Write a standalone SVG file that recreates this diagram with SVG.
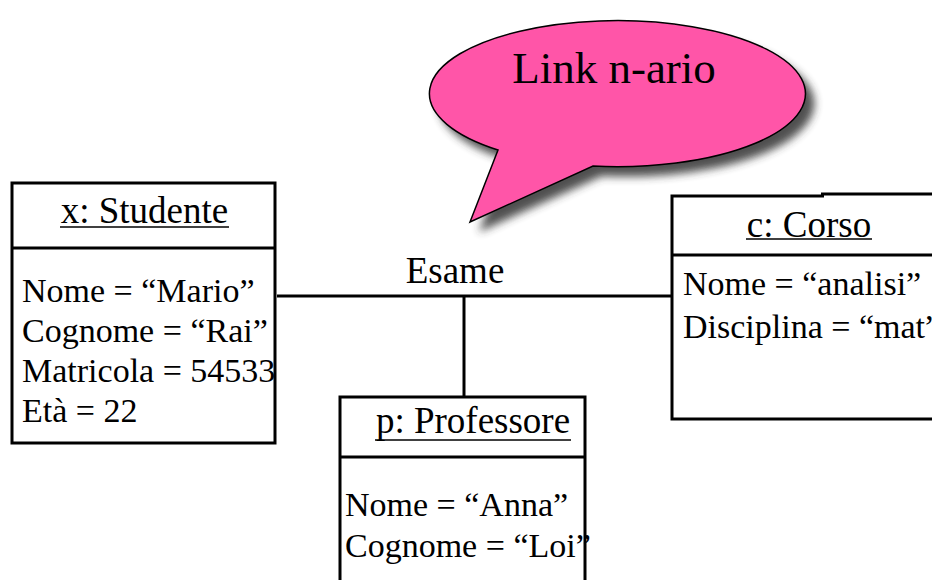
<svg xmlns="http://www.w3.org/2000/svg" width="932" height="580" viewBox="0 0 932 580">
<style>
  .box { fill: #ffffff; stroke: #000000; stroke-width: 3; }
  .ln { stroke: #000000; stroke-width: 3; fill: none; }
  .ul { stroke: #000000; stroke-width: 1.6; }
  text { font-family: 'Liberation Serif', 'Times New Roman', serif; fill: #000000; }
  .title { font-size: 37px; text-anchor: middle; }
  .attr { font-size: 34px; }
  .big { font-size: 45px; text-anchor: middle; }
</style>
<defs>
  <filter id="blur" x="-20%" y="-20%" width="140%" height="140%">
    <feGaussianBlur stdDeviation="4"/>
  </filter>
  <clipPath id="profClip">
    <rect x="0" y="0" width="591" height="580"/>
  </clipPath>
  <path id="bubblePath" d="M 498 150 L 470 222 L 593 166 A 188 73 0 1 0 498 150 Z"/>
</defs>
<rect x="0" y="0" width="932" height="580" fill="#ffffff"/>

<g id="callout">
  <use href="#bubblePath" transform="translate(9,10)" fill="#333333" opacity="0.85" filter="url(#blur)"/>
  <use href="#bubblePath" fill="#ff55a8" stroke="#000000" stroke-width="1.5"/>
  <text class="big" x="614" y="83">Link n-ario</text>
</g>

<g id="connectors">
  <line class="ln" x1="277" y1="296" x2="671" y2="296"/>
  <line class="ln" x1="464" y1="296" x2="464" y2="397"/>
  <text class="title" x="455" y="283">Esame</text>
</g>

<g id="studente">
  <rect class="box" x="12" y="183" width="263" height="260"/>
  <line class="ln" x1="12" y1="248" x2="275" y2="248"/>
  <text class="title" x="144.5" y="223">x: Studente</text>
  <line class="ul" x1="60" y1="227" x2="229" y2="227"/>
  <text class="attr" x="22" y="302">Nome = “Mario”</text>
  <text class="attr" x="22" y="342">Cognome = “Rai”</text>
  <text class="attr" x="22" y="382">Matricola = 54533</text>
  <text class="attr" x="22" y="422">Età = 22</text>
</g>

<g id="corso">
  <rect x="672" y="195" width="270" height="224" fill="#ffffff"/>
  <path class="ln" d="M 942 419 L 672 419 L 672 196 L 824 196 M 821 194 L 942 194"/>
  <line class="ln" x1="672" y1="255" x2="942" y2="255"/>
  <text class="title" x="809" y="237">c: Corso</text>
  <line class="ul" x1="746" y1="239" x2="872" y2="239"/>
  <text class="attr" x="683" y="295">Nome = “analisi”</text>
  <text class="attr" x="683" y="338">Disciplina = “mat”</text>
</g>

<g id="professore">
  <rect class="box" x="340" y="397" width="245" height="200"/>
  <line class="ln" x1="340" y1="457" x2="585" y2="457"/>
  <text class="title" x="473" y="433">p: Professore</text>
  <line class="ul" x1="375" y1="440" x2="571" y2="440"/>
  <g clip-path="url(#profClip)">
    <text class="attr" x="345" y="516">Nome = “Anna”</text>
    <text class="attr" x="345" y="557">Cognome = “Loi”</text>
  </g>
</g>
</svg>
